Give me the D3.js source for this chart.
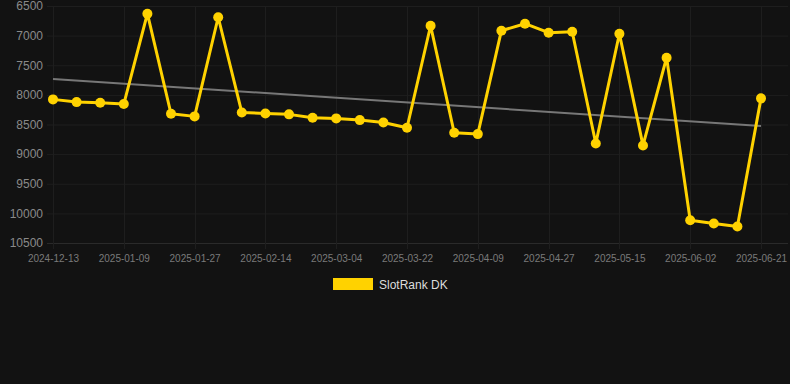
<!DOCTYPE html>
<html>
<head>
<meta charset="utf-8">
<script src="https://cdn.jsdelivr.net/npm/d3@7"></script>
<style>
  html, body { margin: 0; padding: 0; background: #121212; }
  body { width: 790px; height: 384px; overflow: hidden; font-family: "Liberation Sans", Arial, sans-serif; }
</style>
</head>
<body>
<div class="chart"></div>
<script>
const dates = ["2024-12-13","2024-12-22","2024-12-31","2025-01-09","2025-01-15","2025-01-21","2025-01-27",
	"2025-02-02","2025-02-08","2025-02-14","2025-02-20","2025-02-26","2025-03-04","2025-03-10","2025-03-16",
	"2025-03-22","2025-03-28","2025-04-03","2025-04-09","2025-04-15","2025-04-21","2025-04-27","2025-05-03",
	"2025-05-09","2025-05-15","2025-05-21","2025-05-27","2025-06-02","2025-06-08","2025-06-14","2025-06-21"]
const ranks = [8076,8122,8133,8155,6630,8319,8363,6690,8296,8313,8329,8387,8397,8426,8465,8555,
	6833,8640,8662,6917,6799,6951,6934,8820,6968,8853,7373,10115,10171,10221,8059]
const yTicks = [6500,7000,7500,8000,8500,9000,9500,10000,10500]
const xTickLabels = dates.filter(function(d, i){return i % 3 === 0})
const seriesName = "SlotRank DK"

const yellow = "#ffd200"
const width = 790, height = 384
const plot = {left:53, right:761, top:6, bottom:243}

const svg = d3.select(".chart")
	.append("svg")
	.attr("width", width)
	.attr("height", height)

const xScale = d3.scalePoint()
	.domain(dates)
	.range([plot.left, plot.right])

const yScale = d3.scaleLinear()
	.domain([6500, 10500])
	.range([plot.top, plot.bottom])

// grid
svg.append("g")
	.selectAll("line")
	.data(yTicks)
	.enter()
	.append("line")
	.attr("x1", 47)
	.attr("x2", 788)
	.attr("y1", function(d){return yScale(d) + 0.5})
	.attr("y2", function(d){return yScale(d) + 0.5})
	.attr("stroke", function(d){return d === 10500 ? "#2a2a2a" : "#1e1e1e"})
	.attr("stroke-width", 1)

svg.append("g")
	.selectAll("line")
	.data(xTickLabels)
	.enter()
	.append("line")
	.attr("x1", function(d){return Math.round(xScale(d)) + 0.5})
	.attr("x2", function(d){return Math.round(xScale(d)) + 0.5})
	.attr("y1", plot.top)
	.attr("y2", plot.bottom + 6)
	.attr("stroke", "#1e1e1e")
	.attr("stroke-width", 1)

// y axis
const yAxisCall = d3.axisLeft(yScale).tickValues(yTicks).tickFormat(d3.format("d")).tickSize(0).tickPadding(0)
const yAxis = svg.append("g")
	.attr("transform", "translate(43, 0)")
	.call(yAxisCall)
yAxis.select(".domain").remove()
yAxis.selectAll("text")
	.attr("fill", "#8a8a8a")
	.attr("font-size", "12px")
	.attr("font-family", "Liberation Sans, Arial, sans-serif")

// x axis
const xAxisCall = d3.axisBottom(xScale).tickValues(xTickLabels).tickSize(0).tickPadding(0)
const xAxis = svg.append("g")
	.attr("transform", "translate(0, " + (plot.bottom + 12) + ")")
	.call(xAxisCall)
xAxis.select(".domain").remove()
xAxis.selectAll("text")
	.attr("fill", "#7a7a7a")
	.attr("font-size", "10px")
	.attr("font-family", "Liberation Sans, Arial, sans-serif")

// trend line (least squares)
const n = ranks.length
const meanX = d3.mean(ranks, function(d, i){return i})
const meanY = d3.mean(ranks)
let sxy = 0, sxx = 0
ranks.forEach(function(d, i){ sxy += (i - meanX) * (d - meanY); sxx += (i - meanX) * (i - meanX) })
const slope = sxy / sxx
const intercept = meanY - slope * meanX
svg.append("line")
	.attr("x1", xScale(dates[0]))
	.attr("x2", xScale(dates[n - 1]))
	.attr("y1", yScale(intercept))
	.attr("y2", yScale(intercept + slope * (n - 1)))
	.attr("stroke", "#777")
	.attr("stroke-width", 2)

// series
const line = d3.line()
	.x(function(d, i){return xScale(dates[i])})
	.y(function(d){return yScale(d)})

svg.append("path")
	.datum(ranks)
	.attr("d", line)
	.attr("fill", "none")
	.attr("stroke", yellow)
	.attr("stroke-width", 3)
	.attr("stroke-linejoin", "round")

svg.append("g")
	.selectAll("circle")
	.data(ranks)
	.enter()
	.append("circle")
	.attr("cx", function(d, i){return xScale(dates[i])})
	.attr("cy", function(d){return yScale(d)})
	.attr("r", 5)
	.attr("fill", yellow)

// legend
const legend = svg.append("g").attr("transform", "translate(333, 278)")
legend.append("rect")
	.attr("width", 40)
	.attr("height", 12)
	.attr("fill", yellow)
legend.append("text")
	.attr("x", 46)
	.attr("y", 10.5)
	.attr("fill", "#dddddd")
	.attr("font-size", "12px")
	.attr("font-family", "Liberation Sans, Arial, sans-serif")
	.text(seriesName)
</script>
</body>
</html>
